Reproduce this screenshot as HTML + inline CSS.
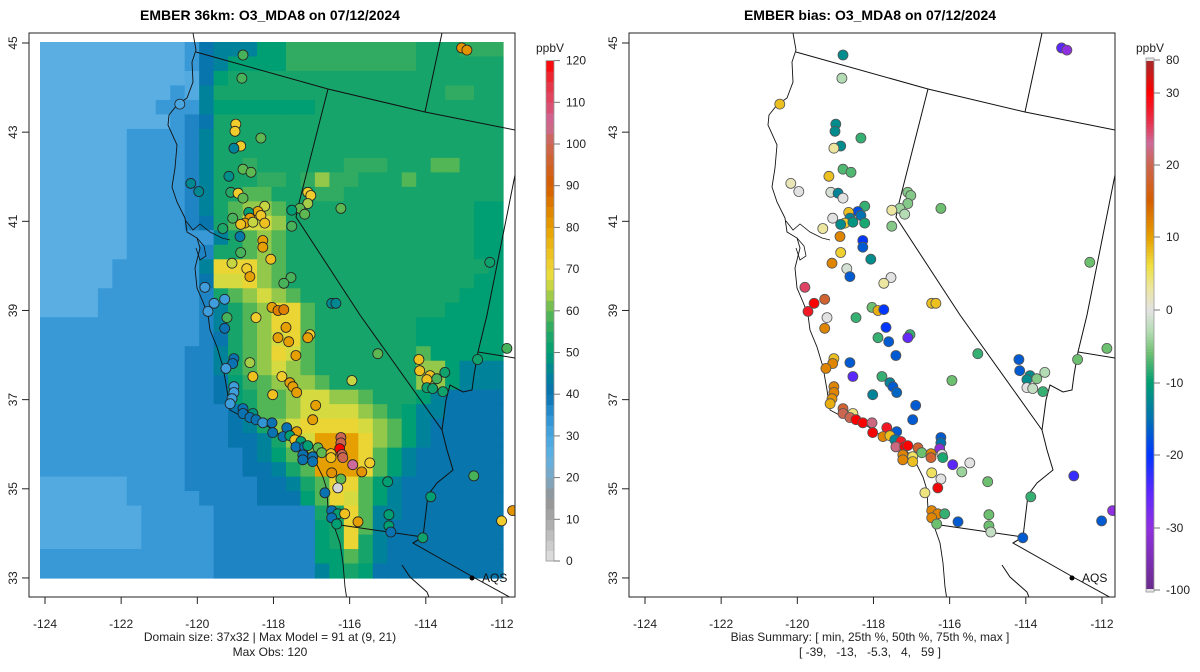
<!DOCTYPE html>
<html><head><meta charset="utf-8">
<style>
html,body{margin:0;padding:0;background:#fff;}
svg{display:block;font-family:"Liberation Sans",sans-serif;}
</style></head>
<body>
<svg id="chart" width="1200" height="672" viewBox="0 0 1200 672" xmlns="http://www.w3.org/2000/svg">
<defs>
<clipPath id="clipL"><rect x="29" y="33" width="486" height="564"/></clipPath>
<clipPath id="clipR"><rect x="629" y="33" width="486" height="564"/></clipPath>
</defs>
<text x="270" y="20" text-anchor="middle" font-size="14" font-weight="bold">EMBER 36km: O3_MDA8 on 07/12/2024</text>
<text x="870" y="20" text-anchor="middle" font-size="14" font-weight="bold">EMBER bias: O3_MDA8 on 07/12/2024</text>
<g id="leftPanel"></g>
<g id="rightPanel"></g>
<text x="270" y="641" text-anchor="middle" font-size="12" fill="#222">Domain size: 37x32 | Max Model = 91 at (9, 21)</text>
<text x="270" y="656" text-anchor="middle" font-size="12" fill="#222">Max Obs: 120</text>
<text x="870" y="641" text-anchor="middle" font-size="12" fill="#222">Bias Summary: [ min, 25th %, 50th %, 75th %, max ]</text>
<text x="870" y="656" text-anchor="middle" font-size="12" fill="#222" style="white-space:pre" xml:space="preserve">[ -39,   -13,   -5.3,   4,   59 ]</text>
</svg>
<script>
// ---- data ----
const gridRows = [
"aaaaaaaaaa"+"c"+"e"+"fff"+"gg"+"iiiiiiiii"+"hhh"+"iii",
"aaaaaaaaaa"+"c"+"e"+"f"+"gggg"+"iiiiiiiii"+"hhhhhh",
"aaaaaaaaaa"+"b"+"e"+"g"+"hhhhhhhhhhhhhhhhhhh",
"aaaaaaaaa"+"c"+"b"+"f"+"hhhhhhhhhhhhhhhhiihh",
"aaaaaaaacc"+"c"+"f"+"ggggggg"+"hhhhhhhhhhhhh",
"aaaaaaaaac"+"d"+"e"+"hhhhhhhhhhhhhhhhhhhh",
"aaaaaacccc"+"d"+"f"+"hhhhhhhhhhhhhhhhhhhh",
"aaaaaacccc"+"d"+"f"+"hhhhhhhhhhhhhhhhhhhh",
"aaaaaacccc"+"d"+"f"+"hhihhhhhhiiihhhjjhhh",
"aaaaaacccc"+"d"+"f"+"hhhiihikiihhhjhhhhhh",
"aaaaaacccc"+"d"+"f"+"hhjjhhhiihhhhhhhhhhh",
"aaaaaacccc"+"d"+"f"+"hjkkjhhhhhhhhhhhhhgg",
"aaaaaacccc"+"d"+"e"+"hjllkhhhhhhhhhhhhhgg",
"aaaaaacccc"+"c"+"c"+"fhjkjhhhhhhhhhhhhhgg",
"aaaaaacccc"+"c"+"d"+"hhjkjhhhhhhhhhhhhhgg",
"aaaaaccccc"+"c"+"f"+"mmmkjhhhhhhhhhhhhhhg",
"aaaaaccccc"+"c"+"e"+"llmkjhhhhhhhhhhhhhgg",
"aaaacccccc"+"c"+"d"+"hjklkjhhhhhhhhhhhggg",
"aaaacccccc"+"c"+"d"+"fhjkmmjhhhhhhhhhgggg",
"ccccccccccc"+"d"+"f"+"h"+"j"+"k"+"mm"+"j"+"hhhhhhh"+"gggggg",
"ccccccccccc"+"d"+"e"+"h"+"j"+"k"+"lm"+"j"+"hhhhhhh"+"gggggg",
"cccccccccc"+"dd"+"f"+"h"+"j"+"k"+"ml"+"j"+"hhhhhhh"+"jggggg",
"cccccccccc"+"dd"+"f"+"h"+"j"+"k"+"lk"+"j"+"hhhhhhh"+"kkgfff",
"cccccccccc"+"dd"+"e"+"g"+"i"+"j"+"kk"+"k"+"jhhhhhh"+"kkgfff",
"cccccccccc"+"dd"+"e"+"g"+"h"+"j"+"jk"+"l"+"lkkjhhh"+"gfeeee",
"cccccccccc"+"dd"+"d"+"e"+"h"+"j"+"jk"+"l"+"lllkjhg"+"ffeeee",
"cccccccccc"+"dd"+"d"+"e"+"f"+"h"+"kl"+"m"+"mmmlkjg"+"feeeee",
"cccccccccc"+"dd"+"d"+"e"+"e"+"f"+"hk"+"l"+"nnnmkjg"+"feeeee",
"cccccccccc"+"dd"+"d"+"d"+"e"+"f"+"gj"+"k"+"nnnmjgf"+"eeeeee",
"cccccccccc"+"dd"+"d"+"d"+"e"+"e"+"fh"+"j"+"nnnmjgf"+"eeeeee",
"bbbbbbcccc"+"dd"+"d"+"d"+"d"+"e"+"ef"+"h"+"jmmjgfe"+"eeeeee",
"bbbbbbcccc"+"cd"+"d"+"d"+"d"+"e"+"ee"+"g"+"jmljgfe"+"eeeeee",
"bbbbbbbccccc"+"ddddddd"+"hhmjffe"+"eeeeee",
"bbbbbbbccccc"+"ddddddd"+"ghmjfee"+"eeeeee",
"bbbbbbbccccc"+"ddddddd"+"ghmhfee"+"eeeeee",
"cccccccccccc"+"ddddddd"+"ggjhfee"+"eeeeee",
"cccccccccccc"+"ddddddd"+"fghgeee"+"eeeeee"
];
const levelCodes = "abcdefghijklmno";
const levelValues = [26,28,33,37,41,45,50,53,56,59,63,67,70,80,86];

const stationLon = [-118.80,-118.83,-120.46,-118.99,-119.01,-118.33,-118.86,-119.04,-118.80,-118.59,-119.17,-120.17,-119.96,-119.12,-118.93,-118.80,-117.10,-117.02,-117.10,-117.31,-117.52,-117.18,-116.23,-118.23,-118.41,-118.33,-118.65,-119.07,-118.62,-118.75,-118.86,-118.54,-118.23,-119.33,-117.52,-118.88,-118.28,-118.28,-118.86,-118.07,-119.09,-118.70,-118.62,-117.54,-117.73,-112.32,-113.06,-112.92,-119.80,-119.56,-119.28,-116.47,-116.36,-118.04,-117.88,-117.73,-119.72,-119.22,-118.46,-117.67,-119.28,-117.88,-117.60,-117.04,-117.10,-117.41,-118.62,-119.04,-119.07,-119.25,-118.54,-117.78,-117.57,-117.49,-117.39,-118.02,-119.04,-119.04,-119.09,-119.14,-118.80,-118.80,-118.54,-118.62,-118.46,-118.28,-118.04,-116.89,-116.97,-115.26,-115.94,-114.18,-114.16,-113.89,-113.97,-113.71,-113.50,-113.97,-113.82,-113.55,-112.64,-111.87,-112.74,-112.01,-111.72,-117.65,-117.39,-118.02,-117.75,-117.57,-117.44,-117.28,-117.41,-117.18,-117.10,-116.83,-116.73,-117.23,-117.23,-116.97,-116.97,-116.23,-116.23,-116.26,-116.49,-116.49,-116.20,-116.18,-115.92,-115.47,-115.68,-116.47,-116.23,-116.31,-116.65,-115.00,-113.87,-116.47,-116.31,-116.13,-116.47,-116.34,-115.78,-114.97,-114.97,-114.92,-114.08];
const stationLat = [44.73,44.21,43.63,43.18,43.02,42.87,42.69,42.64,42.17,42.10,42.01,41.85,41.67,41.65,41.63,41.52,41.65,41.58,41.40,41.29,41.25,41.16,41.29,41.34,41.22,41.13,41.20,41.07,41.07,40.96,40.93,40.98,40.96,40.84,40.89,40.66,40.57,40.42,40.30,40.15,40.06,39.94,39.76,39.74,39.61,40.08,44.89,44.84,39.52,39.16,39.25,39.16,39.16,39.07,39.00,39.02,38.98,38.84,38.84,38.62,38.60,38.39,38.30,38.46,38.39,37.99,37.83,37.92,37.81,37.70,37.52,37.52,37.38,37.29,37.16,37.11,37.29,37.16,37.02,36.91,36.80,36.69,36.69,36.60,36.55,36.48,36.48,36.87,36.55,38.03,37.43,37.90,37.65,37.54,37.45,37.47,37.61,37.27,37.25,37.18,37.90,38.15,35.29,34.28,34.51,36.37,36.28,36.26,36.17,36.19,36.10,36.06,35.94,35.94,35.97,35.92,35.81,35.76,35.65,35.72,35.61,36.15,36.03,35.90,35.79,35.70,35.77,35.70,35.54,35.58,35.38,35.36,35.22,35.02,34.91,35.16,34.82,34.51,34.44,34.44,34.35,34.21,34.26,34.42,34.17,34.03,33.90];
const obsValues = [58,58,30,72,72,60,72,45,60,60,47,46,46,55,72,60,72,72,64,60,50,60,60,66,78,73,50,58,80,80,74,66,74,54,58,42,80,80,58,74,66,72,80,58,58,52,82,82,32,32,32,46,46,80,85,85,32,58,72,80,40,80,80,72,80,80,64,40,40,32,74,72,80,80,80,74,32,32,32,32,40,40,48,40,40,34,40,80,80,60,66,74,74,74,74,58,52,52,52,52,52,58,58,72,82,40,80,40,40,50,74,50,40,40,50,60,60,40,40,40,40,100,100,120,74,74,100,100,105,72,82,82,60,2,40,50,50,40,50,74,40,50,80,50,50,40,52];
const biasValues = [-12,-3,8,-12,-12,-8,-12,3,-7,-7,8,2,0,-1,-13,0,-5,-5,-5,-4,3,-3,-6,-8,-18,-15,8,0,-13,7,-12,-11,-9,3,-5,12,-20,-17,7,-12,12,-1,-17,0,3,-6,-25,-30,25,30,18,8,8,-6,9,-20,28,0,-8,-20,12,-8,-17,-8,-26,-17,-17,8,12,12,-25,-8,-13,-17,-16,-13,12,12,11,9,18,20,4,20,30,30,22,-17,-17,-8,-6,-17,-17,-12,-12,-5,-3,0,-2,-8,-6,-6,-23,-17,-30,28,-17,35,12,8,-13,28,22,35,30,18,-6,12,12,5,8,-17,-15,-35,12,18,0,-9,-25,0,-4,5,0,38,4,-6,-8,12,12,-8,12,-6,-17,-6,-6,-2,-17];

const obsTicks = [0,10,20,30,40,50,60,70,80,90,100,110,120];
const biasTicks = [80,30,20,10,0,-10,-20,-30,-100];
const lonTicks = [-124,-122,-120,-118,-116,-114,-112];
const latTicks = [45,43,41,39,37,35,33];

// ---- scales ----
const NS = "http://www.w3.org/2000/svg";
function xOf(lon, off){ return off + 45 + (lon + 124) * 38.08; }
function yOf(lat){ return 43 + (45 - lat) * 44.58; }
function hex(h){ return [parseInt(h.substr(1,2),16),parseInt(h.substr(3,2),16),parseInt(h.substr(5,2),16)]; }
function interp(stops, v){
  if (v <= stops[0][0]) return stops[0][1];
  for (let i=1;i<stops.length;i++){
    if (v <= stops[i][0]){
      const t=(v-stops[i-1][0])/(stops[i][0]-stops[i-1][0]);
      const a=hex(stops[i-1][1]), b=hex(stops[i][1]);
      return "rgb("+a.map((c,k)=>Math.round(c+(b[k]-c)*t)).join(",")+")";
    }
  }
  return stops[stops.length-1][1];
}
const obsStops = [[0,"#e2e2e2"],[10,"#a8a8a8"],[15,"#929292"],[20,"#7ea8c6"],[25,"#5eb0e2"],[30,"#4aa6e0"],[35,"#2d90d0"],[40,"#0a72b0"],[45,"#00839a"],[50,"#009e73"],[55,"#25a865"],[60,"#5db852"],[64,"#a6cd48"],[68,"#e6de3e"],[72,"#f0cc2c"],[80,"#e69f00"],[90,"#d55e00"],[100,"#cc6650"],[105,"#cc6a99"],[110,"#dd4a6a"],[115,"#e8303e"],[120,"#ff0000"]];
const biasStops = [[-100,"#6a2c8a"],[-30,"#9030e0"],[-25,"#5a28ff"],[-20,"#0036ff"],[-15,"#0072b2"],[-10,"#009e73"],[-6,"#6cc070"],[-3,"#b4dcb4"],[0,"#e2e2e2"],[3,"#ece6a0"],[6,"#f0e040"],[10,"#e69f00"],[15,"#d55e00"],[20,"#cc6650"],[23,"#cc6a99"],[26,"#e8304a"],[30,"#ff0000"],[80,"#a52a2a"]];
const biasPos = [[-100,590],[-30,528],[-20,455],[-10,383],[0,310],[10,237],[20,165],[30,93],[80,60]];
function biasY(v){
  for (let i=1;i<biasPos.length;i++){ if (v<=biasPos[i][0]){ const t=(v-biasPos[i-1][0])/(biasPos[i][0]-biasPos[i-1][0]); return biasPos[i-1][1]+(biasPos[i][1]-biasPos[i-1][1])*t; } }
  return 60;
}
function obsY(v){ return 561 - v * 4.17; }

function mk(tag, attrs, parent){
  const e=document.createElementNS(NS,tag);
  for (const k in attrs) e.setAttribute(k, attrs[k]);
  parent.appendChild(e); return e;
}

const coast = "M193,33 L196,50 L192,62 L193,82 L187,98 L177,105 L169,115 L168,125 L177,145 L175,168 L172,187 L177,202 L185,218 L187,232 L197,238 L200,248 L195,268 L197,288 L203,302 L208,315 L210,330 L217,347 L223,367 L227,390 L230,410 L243,417 L263,423 L277,433 L297,443 L313,457 L323,477 L327,490 L328,510 L333,523 L340,543 L343,563 L345,587 L347,600";
const bay = "M186,221 L193,230 L200,224 L210,232 L222,238 L230,240 M197,238 L204,246 L206,256 L200,260 L196,248";
const borders = [
 "M196,52 L328,89 L425,112 L515,130",
 "M328,89 L299,203 L296,217 L360,315 L442,430",
 "M425,112 L442,33",
 "M515,175 L487,315 L478,352 L515,358",
 "M478,352 L474,375 L472,390 L463,392 L450,385 L446,400 L442,430 L447,450 L453,470 L437,483 L428,495 L423,537 L413,543",
 "M340,525 L423,537 L413,543 L473,577 L515,600",
 "M402,565 L410,577 L427,592 L430,600"
];

function drawPanel(g, off, isBias){
  const clipId = off ? "clipR" : "clipL";
  const inner = mk("g", {"clip-path":"url(#"+clipId+")"}, g);
  if (!isBias){
    const cw = 463/32, ch = 536/37;
    const heat = mk("g", {}, inner);
    
    
    gridRows.forEach((row, r) => {
      let s = row; while (s.length < 32) s += s[s.length-1]; s = s.substr(0,32);
      for (let c=0;c<32;c++){
        const v = levelValues[levelCodes.indexOf(s[c])];
        const rc = mk("rect", {x:(40+c*cw).toFixed(2), y:(42+r*ch).toFixed(2), width:(cw+0.6).toFixed(2), height:(ch+0.6).toFixed(2), fill:interp(obsStops, v)}, heat);
        
        
      }
    });
  }
  const geo = mk("g", {transform:"translate("+off+",0)", fill:"none", stroke:"#111", "stroke-width":"1"}, inner);
  
  
  const cp = mk("path", {d:coast, "stroke-width":"0.9"}, geo);
  
  
  const bp = mk("path", {d:bay, "stroke-width":"0.8"}, geo);
  
  
  borders.forEach(d => {
    const p = mk("path", {d:d}, geo);
    
    
  });
  const vals = isBias ? biasValues : obsValues;
  const stops = isBias ? biasStops : obsStops;
  const sg = mk("g", {}, inner);
  
  
  for (let i=0;i<stationLon.length;i++){
    const c = mk("circle", {cx:xOf(stationLon[i],off).toFixed(1), cy:yOf(stationLat[i]).toFixed(1), r:"5", fill:interp(stops, vals[i]), stroke:isBias?"#555":"#222", "stroke-width":"0.8"}, sg);
    
    
  }
  const aq = mk("circle", {cx:off+472, cy:578, r:"2.5", fill:"#000"}, inner);
  
  
  const at = mk("text", {x:off+482, y:582, "font-size":"12", fill:"#111"}, inner);
  
  
  at.textContent = "AQS";
  const fr = mk("rect", {x:off+29, y:33, width:486, height:564, fill:"none", stroke:"#222", "stroke-width":"1"}, g);
  
  
  lonTicks.forEach(t => {
    const x = xOf(t, off);
    const tk = mk("line", {x1:x, x2:x, y1:597, y2:604, stroke:"#222"}, g);
    
    
    const tl = mk("text", {x:x, y:628, "text-anchor":"middle", "font-size":"12", fill:"#222"}, g);
    
    
    tl.textContent = t;
  });
  latTicks.forEach(t => {
    const y = yOf(t);
    const tk = mk("line", {x1:off+22, x2:off+29, y1:y, y2:y, stroke:"#222"}, g);
    
    
    const tl = mk("text", {x:0, y:0, transform:"translate("+(off+17)+","+y+") rotate(-90)", "text-anchor":"middle", "font-size":"12", fill:"#222"}, g);
    
    
    tl.textContent = t;
  });
  const cb = mk("g", {}, g);
  
  
  const bx = off + 546;
  if (!isBias){
    for (let v=0; v<120; v+=2.5){
      const r = mk("rect", {x:bx, y:obsY(v+2.5).toFixed(2), width:8, height:(2.5*4.17+0.5).toFixed(2), fill:interp(obsStops, v+1.25)}, cb);
      
      
    }
    mk("rect", {x:bx, y:obsY(120), width:8, height:(120*4.17).toFixed(1), fill:"none", stroke:"#999", "stroke-width":"0.8"}, cb);
  } else {
    for (let y=58; y<592; y+=3){
      let v = 0;
      for (let i=1;i<biasPos.length;i++){ const a=biasPos[i-1], b=biasPos[i]; if (y+1.5<=a[1] && y+1.5>=b[1]){ v = a[0]+(b[0]-a[0])*((a[1]-(y+1.5))/(a[1]-b[1])); } }
      const r = mk("rect", {x:bx, y:y, width:8, height:3.5, fill:interp(biasStops, v)}, cb);
      
      
    }
    mk("rect", {x:bx, y:58, width:8, height:534, fill:"none", stroke:"#999", "stroke-width":"0.8"}, cb);
  }
  const ticks = isBias ? biasTicks : obsTicks;
  ticks.forEach(t => {
    const y = isBias ? biasY(t) : obsY(t);
    const l = mk("line", {x1:bx+8, x2:bx+14, y1:y, y2:y, stroke:"#777"}, cb);
    
    
    const tl = mk("text", {x:bx+20, y:y+4, "font-size":"12", fill:"#222"}, cb);
    
    
    tl.textContent = t;
  });
  const u = mk("text", {x:bx+4, y:52, "text-anchor":"middle", "font-size":"12", fill:"#222"}, cb);
  
  
  u.textContent = "ppbV";
}
drawPanel(document.getElementById("leftPanel"), 0, false);
drawPanel(document.getElementById("rightPanel"), 600, true);
</script>
</body></html>
